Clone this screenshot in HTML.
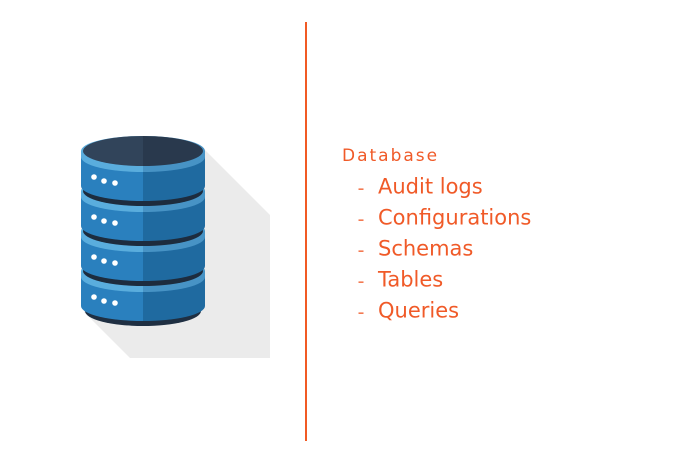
<!DOCTYPE html>
<html><head><meta charset="utf-8"><style>
html,body{margin:0;padding:0;background:#fff;width:687px;height:460px;overflow:hidden}
svg{display:block}
text{font-family:"DejaVu Sans","Liberation Sans",sans-serif;fill:#f05a28}
</style></head><body>
<svg width="687" height="460" viewBox="0 0 687 460" xmlns="http://www.w3.org/2000/svg">
<rect x="0" y="0" width="687" height="460" fill="#ffffff"/>
<!-- long shadow -->
<polygon points="143,140 205,150 270,215 270,358 130,358 84,312 82,200" fill="#ebebeb"/>
<!-- base -->
<ellipse cx="143" cy="311" rx="58" ry="15" fill="#1f2f42"/>

<!-- segment 3 cy=271 -->
<g>
<path d="M81,274 L81,306 A62,15 0 0 0 143,321 L143,274 Z" fill="#2a80be"/>
<path d="M143,274 L143,321 A62,15 0 0 0 205,306 L205,274 Z" fill="#1f6aa0"/>
<path d="M81,271 L81,277 A62,15 0 0 0 143,292 L143,256 A62,15 0 0 0 81,271 Z" fill="#5aaddd"/>
<path d="M143,256 L143,292 A62,15 0 0 0 205,277 L205,271 A62,15 0 0 0 143,256 Z" fill="#4793c5"/>
<ellipse cx="143" cy="271" rx="60" ry="15" fill="#1d2c3e"/>
<circle cx="94" cy="297" r="2.8" fill="#fff"/><circle cx="104" cy="301" r="2.8" fill="#fff"/><circle cx="115" cy="303" r="2.8" fill="#fff"/>
</g>
<!-- segment 2 cy=231 -->
<g>
<path d="M81,234 L81,266 A62,15 0 0 0 143,281 L143,234 Z" fill="#2a80be"/>
<path d="M143,234 L143,281 A62,15 0 0 0 205,266 L205,234 Z" fill="#1f6aa0"/>
<path d="M81,231 L81,237 A62,15 0 0 0 143,252 L143,216 A62,15 0 0 0 81,231 Z" fill="#5aaddd"/>
<path d="M143,216 L143,252 A62,15 0 0 0 205,237 L205,231 A62,15 0 0 0 143,216 Z" fill="#4793c5"/>
<ellipse cx="143" cy="231" rx="60" ry="15" fill="#1d2c3e"/>
<circle cx="94" cy="257" r="2.8" fill="#fff"/><circle cx="104" cy="261" r="2.8" fill="#fff"/><circle cx="115" cy="263" r="2.8" fill="#fff"/>
</g>
<!-- segment 1 cy=191 -->
<g>
<path d="M81,194 L81,226 A62,15 0 0 0 143,241 L143,194 Z" fill="#2a80be"/>
<path d="M143,194 L143,241 A62,15 0 0 0 205,226 L205,194 Z" fill="#1f6aa0"/>
<path d="M81,191 L81,197 A62,15 0 0 0 143,212 L143,176 A62,15 0 0 0 81,191 Z" fill="#5aaddd"/>
<path d="M143,176 L143,212 A62,15 0 0 0 205,197 L205,191 A62,15 0 0 0 143,176 Z" fill="#4793c5"/>
<ellipse cx="143" cy="191" rx="60" ry="15" fill="#1d2c3e"/>
<circle cx="94" cy="217" r="2.8" fill="#fff"/><circle cx="104" cy="221" r="2.8" fill="#fff"/><circle cx="115" cy="223" r="2.8" fill="#fff"/>
</g>
<!-- segment 0 cy=151 -->
<g>
<path d="M81,154 L81,186 A62,15 0 0 0 143,201 L143,154 Z" fill="#2a80be"/>
<path d="M143,154 L143,201 A62,15 0 0 0 205,186 L205,154 Z" fill="#1f6aa0"/>
<path d="M81,151 L81,157 A62,15 0 0 0 143,172 L143,136 A62,15 0 0 0 81,151 Z" fill="#5aaddd"/>
<path d="M143,136 L143,172 A62,15 0 0 0 205,157 L205,151 A62,15 0 0 0 143,136 Z" fill="#4793c5"/>
<path d="M83,151 A60,15 0 0 0 143,166 L143,136 A60,15 0 0 0 83,151 Z" fill="#31445a"/>
<path d="M143,136 L143,166 A60,15 0 0 0 203,151 A60,15 0 0 0 143,136 Z" fill="#29394d"/>
<circle cx="94" cy="177" r="2.8" fill="#fff"/><circle cx="104" cy="181" r="2.8" fill="#fff"/><circle cx="115" cy="183" r="2.8" fill="#fff"/>
</g>

<!-- divider -->
<rect x="305" y="22" width="2" height="419" fill="#f15a24"/>

<!-- text -->
<text x="342" y="161" font-size="17" letter-spacing="2">Database</text>
<rect x="358.5" y="188.5" width="5" height="1.3" fill="#f05a28"/>
<text x="378" y="193.3" font-size="21">Audit logs</text>
<rect x="358.5" y="219.5" width="5" height="1.3" fill="#f05a28"/>
<text x="378" y="224.3" font-size="21">Configurations</text>
<rect x="358.5" y="250.5" width="5" height="1.3" fill="#f05a28"/>
<text x="378" y="255.3" font-size="21">Schemas</text>
<rect x="358.5" y="281.5" width="5" height="1.3" fill="#f05a28"/>
<text x="378" y="286.3" font-size="21">Tables</text>
<rect x="358.5" y="312.5" width="5" height="1.3" fill="#f05a28"/>
<text x="378" y="317.3" font-size="21">Queries</text>
</svg>
</body></html>
